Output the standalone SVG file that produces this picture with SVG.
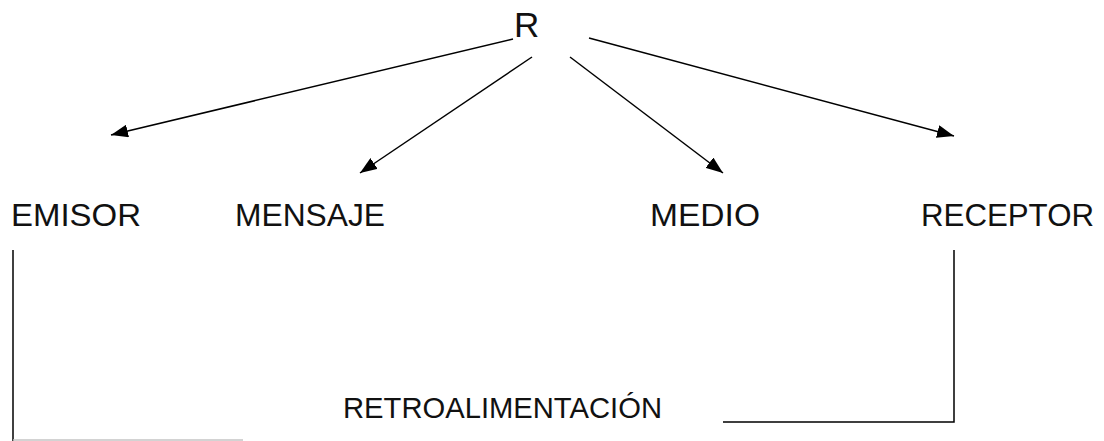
<svg xmlns="http://www.w3.org/2000/svg" width="1104" height="441" viewBox="0 0 1104 441">
<style>
.lbl{font-family:"Liberation Sans",Arial,sans-serif;font-size:31px;fill:#111}
.ln{stroke:#000;stroke-width:1.5;fill:none}
</style>
<defs>
<marker id="ah" markerUnits="userSpaceOnUse" markerWidth="17" markerHeight="13" refX="17" refY="6.5" orient="auto">
<path d="M0,0 L17,6.5 L0,13 z" fill="#000"/>
</marker>
</defs>
<rect width="1104" height="441" fill="#fff"/>
<g id="connectors">
<line class="ln" x1="513" y1="39" x2="111" y2="135" marker-end="url(#ah)"/>
<line class="ln" x1="532" y1="57" x2="360" y2="173" marker-end="url(#ah)"/>
<line class="ln" x1="570" y1="57" x2="723" y2="173" marker-end="url(#ah)"/>
<line class="ln" x1="589" y1="38" x2="954" y2="136" marker-end="url(#ah)"/>
<polyline class="ln" points="13,250 13,441"/>
<line x1="13" y1="440" x2="243" y2="440" stroke="#c4c4c4" stroke-width="1.5"/>
<polyline class="ln" points="954,250 954,422 723,422" stroke-width="1.8"/>
</g>
<g id="node-r"><text x="514" y="37" class="lbl" style="font-size:35px">R</text></g>
<g id="node-emisor"><text x="11" y="226" class="lbl" textLength="130" lengthAdjust="spacingAndGlyphs">EMISOR</text></g>
<g id="node-mensaje"><text x="235" y="226" class="lbl" textLength="150" lengthAdjust="spacingAndGlyphs">MENSAJE</text></g>
<g id="node-medio"><text x="650" y="226" class="lbl" textLength="110" lengthAdjust="spacingAndGlyphs">MEDIO</text></g>
<g id="node-receptor"><text x="921" y="226" class="lbl" textLength="173" lengthAdjust="spacingAndGlyphs">RECEPTOR</text></g>
<g id="node-retro"><text x="343" y="418" class="lbl" style="font-size:29px" textLength="319" lengthAdjust="spacingAndGlyphs">RETROALIMENTACIÓN</text></g>
</svg>
